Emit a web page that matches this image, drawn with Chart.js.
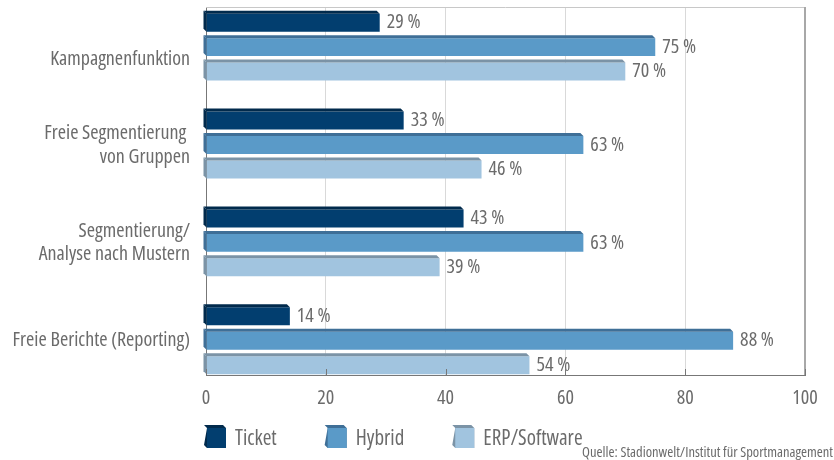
<!DOCTYPE html>
<html>
<head>
<meta charset="utf-8">
<script src="https://cdn.jsdelivr.net/npm/chart.js@4/dist/chart.umd.min.js"></script>
<style>
  body { margin: 0; background: #fff; }
  #wrap { width: 834px; height: 460px; }
</style>
</head>
<body>
<div id="wrap"><canvas id="crmChart"></canvas></div>
<script>
const categories = [
    ['', 'Kampagnenfunktion'],
    ['Freie Segmentierung ', 'von Gruppen'],
    ['Segmentierung/', 'Analyse nach Mustern'],
    'Freie Berichte (Reporting)'
];
const seriesNames = ['Ticket', 'Hybrid', 'ERP/Software'];
const ticketValues = [29, 33, 43, 14];
const hybridValues = [75, 63, 63, 88];
const erpValues = [70, 46, 39, 54];
const xTicks = [0, 20, 40, 60, 80, 100];
const sourceNote = 'Quelle: Stadionwelt/Institut für Sportmanagement';

// Open Sans is a variable font here, "condensed" narrows it
const FAMILY = "'Open Sans', sans-serif";
const STRETCH = 'condensed';
const TEXT = '#6b6b6b';
const cfont = (px) => `${STRETCH} ${px}px ${FAMILY}`;

// front colour, shaded (top/side) colour
const colors = [
    ['#023e6f', '#012a4c'],
    ['#5a9ac8', '#3f6f97'],
    ['#a1c4df', '#7b93a6']
];

const toPoints = (vals) => vals.map((v, i) => ({x: v, y: i}));

const chartData = {
    datasets: [ticketValues, hybridValues, erpValues].map((vals, i) => ({
        label: seriesNames[i],
        data: toPoints(vals),
        backgroundColor: colors[i][0],
        borderWidth: 0,
        categoryPercentage: 0.75,
        barPercentage: 0.735
    }))
};

const DEPTH = 3;

const bar3d = {
    id: 'bar3d',
    afterDatasetsDraw(chart) {
        const ctx = chart.ctx;
        chart.data.datasets.forEach((ds, di) => {
            chart.getDatasetMeta(di).data.forEach((bar, idx) => {
                const x0 = bar.base, x1 = bar.x;
                const y0 = bar.y - bar.height / 2, y1 = bar.y + bar.height / 2;
                ctx.save();
                ctx.fillStyle = colors[di][1];
                ctx.beginPath();
                ctx.moveTo(x0, y0);
                ctx.lineTo(x1, y0);
                ctx.lineTo(x1 - DEPTH, y0 - DEPTH);
                ctx.lineTo(x0 - DEPTH, y0 - DEPTH);
                ctx.closePath();
                ctx.fill();
                ctx.beginPath();
                ctx.moveTo(x0, y0);
                ctx.lineTo(x0 - DEPTH, y0 - DEPTH);
                ctx.lineTo(x0 - DEPTH, y1 - DEPTH);
                ctx.lineTo(x0, y1);
                ctx.closePath();
                ctx.fill();
                // value label
                ctx.fillStyle = TEXT;
                ctx.font = cfont(20);
                ctx.textBaseline = 'middle';
                ctx.textAlign = 'left';
                ctx.fillText(ds.data[idx].x + ' %', x1 + 7, bar.y);
                ctx.restore();
            });
        });
    },
    afterDraw(chart) {
        const ctx = chart.ctx;
        const a = chart.chartArea;
        const xs = chart.scales.x;
        ctx.save();
        // frame top / right
        ctx.strokeStyle = '#c8c8c8';
        ctx.lineWidth = 1;
        ctx.beginPath();
        ctx.moveTo(a.left, a.top + 0.5);
        ctx.lineTo(a.right, a.top + 0.5);
        ctx.stroke();
        ctx.strokeStyle = '#a8a8a8';
        ctx.lineWidth = 2;
        ctx.beginPath();
        ctx.moveTo(a.right, a.top);
        ctx.lineTo(a.right, a.bottom);
        ctx.stroke();
        // inward tick marks
        ctx.strokeStyle = '#777';
        ctx.lineWidth = 1;
        xTicks.forEach(t => {
            const px = Math.round(xs.getPixelForValue(t)) + 0.5;
            ctx.beginPath();
            ctx.moveTo(px, a.bottom);
            ctx.lineTo(px, a.bottom - 6);
            ctx.stroke();
        });

        // legend
        ctx.font = cfont(21);
        ctx.textBaseline = 'middle';
        ctx.textAlign = 'left';
        let lx = 204;
        const ly = 425;
        chart.data.datasets.forEach((ds, i) => {
            const fx = lx + DEPTH, fy = ly + DEPTH, fw = 19, fh = 20;
            ctx.fillStyle = colors[i][1];
            ctx.beginPath();
            ctx.moveTo(fx, fy);
            ctx.lineTo(fx - DEPTH, fy - DEPTH);
            ctx.lineTo(fx + fw - DEPTH, fy - DEPTH);
            ctx.lineTo(fx + fw, fy);
            ctx.lineTo(fx + fw, fy + fh);
            ctx.lineTo(fx, fy + fh);
            ctx.lineTo(fx - DEPTH, fy + fh - DEPTH);
            ctx.closePath();
            ctx.fill();
            ctx.fillStyle = colors[i][0];
            ctx.fillRect(fx, fy, fw, fh);
            ctx.fillStyle = TEXT;
            const tx = fx + fw + 9;
            ctx.fillText(ds.label, tx, fy + fh / 2 + 1);
            lx = tx + ctx.measureText(ds.label).width + 48;
        });

        // source note
        ctx.font = cfont(14.5);
        ctx.textAlign = 'right';
        ctx.textBaseline = 'alphabetic';
        ctx.fillStyle = TEXT;
        ctx.fillText(sourceNote, 833, 457);
        ctx.restore();
    }
};

const chartConfig = {
    type: 'bar',
    data: chartData,
    options: {
        indexAxis: 'y',
        responsive: true,
        maintainAspectRatio: false,
        animation: false,
        layout: { padding: { top: 7, right: 29, left: 0, bottom: 0 } },
        plugins: {
            legend: { display: false },
            tooltip: { enabled: false }
        },
        scales: {
            x: {
                type: 'linear',
                min: 0,
                max: 100,
                afterBuildTicks: (s) => { s.ticks = xTicks.map(v => ({value: v})); },
                afterFit: (s) => {
                    s.height = 85;
                    s.paddingLeft = 0;
                    s.paddingRight = 0;
                },
                grid: { color: '#d9d9d9', drawTicks: false },
                border: { color: '#777', width: 1 },
                ticks: {
                    padding: 11,
                    color: TEXT,
                    font: { family: FAMILY, weight: STRETCH, size: 20 }
                }
            },
            y: {
                type: 'linear',
                reverse: true,
                offset: false,
                min: -0.41,
                max: 3.35,
                afterBuildTicks: (s) => { s.ticks = categories.map((_, i) => ({value: i})); },
                afterFit: (s) => {
                    s.width = 206;
                    s.paddingTop = 0;
                    s.paddingBottom = 0;
                },
                grid: { display: false, drawTicks: false },
                border: { color: '#777', width: 1 },
                ticks: {
                    padding: 16,
                    color: TEXT,
                    font: { family: FAMILY, weight: STRETCH, size: 20, lineHeight: 1.18 },
                    callback: (v) => categories[v]
                }
            }
        }
    },
    plugins: [bar3d]
};

const crmChart = new Chart(document.getElementById('crmChart'), chartConfig);
</script>
</body>
</html>
